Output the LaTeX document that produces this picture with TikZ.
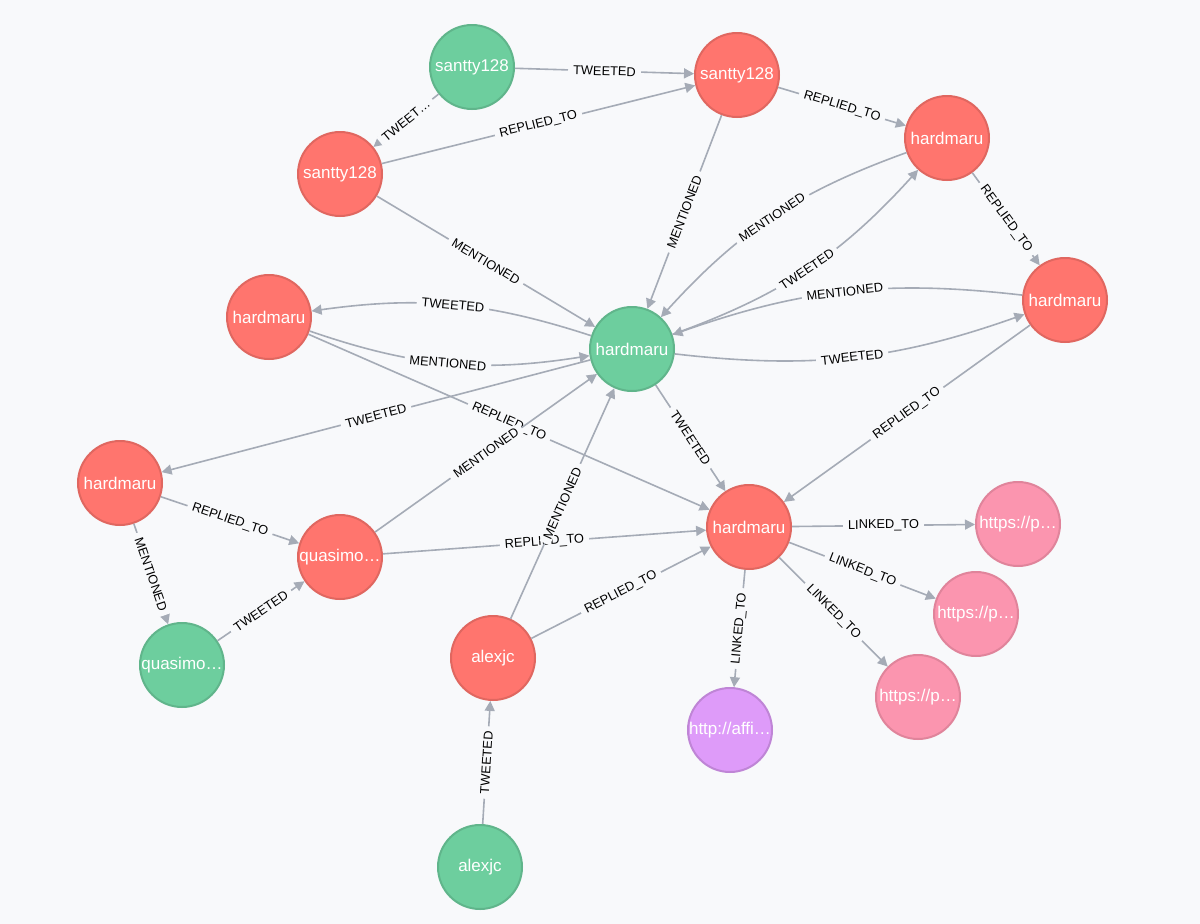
\documentclass[tikz,border=0pt]{standalone}
\usepackage{fontspec}
\setmainfont{Liberation Sans}
\usetikzlibrary{arrows.meta}
\definecolor{bg}{HTML}{F8F9FB}
\definecolor{grn}{HTML}{6DCE9E}
\definecolor{grnd}{HTML}{60B58B}
\definecolor{red}{HTML}{FF756E}
\definecolor{redd}{HTML}{E06760}
\definecolor{pnk}{HTML}{FB95AF}
\definecolor{pnkd}{HTML}{E0849B}
\definecolor{pur}{HTML}{DE9BF9}
\definecolor{purd}{HTML}{BF85D6}
\definecolor{edge}{HTML}{A5ABB6}
\begin{document}
\begin{tikzpicture}[x=1pt,y=1pt,
  nd/.style={circle,minimum size=84pt,inner sep=0pt,line width=2pt,font=\fontsize{17}{20}\selectfont,text=white},
  gn/.style={nd,fill=grn,draw=grnd},
  rn/.style={nd,fill=red,draw=redd},
  pk/.style={nd,fill=pnk,draw=pnkd},
  pu/.style={nd,fill=pur,draw=purd},
  rel/.style={draw=edge,line width=1.6pt,-{Triangle[length=10pt,width=10pt]}},
  lbl/.style={sloped,midway,fill=bg,inner xsep=5pt,inner ysep=1pt,font=\fontsize{12.8}{14}\selectfont,text=black}
]
\fill[bg] (0,0) rectangle (1200,-924);
\useasboundingbox (0,0) rectangle (1200,-924);

\node[gn] (s1) at (472,-67) {santty128};
\node[rn] (s2) at (737,-75) {santty128};
\node[rn] (s3) at (340,-174) {santty128};
\node[rn] (h1) at (947,-138) {hardmaru};
\node[rn] (h2) at (1065,-300) {hardmaru};
\node[rn] (h3) at (269,-317) {hardmaru};
\node[gn] (hc) at (632,-349) {hardmaru};
\node[rn] (h4) at (120,-483) {hardmaru};
\node[rn] (q1) at (340,-557) {quasimo…};
\node[gn] (q2) at (182,-665) {quasimo…};
\node[rn] (a1) at (493,-658) {alexjc};
\node[gn] (a2) at (480,-867) {alexjc};
\node[rn] (hb) at (749,-527) {hardmaru};
\node[pk] (u1) at (1018,-524) {https://p…};
\node[pk] (u2) at (976,-614) {https://p…};
\node[pk] (u3) at (918,-697) {https://p…};
\node[pu] (u4) at (730,-730) {http://affi…};

\draw[rel] (s1) -- node[lbl]{TWEETED} (s2);
\draw[rel] (s1) -- node[lbl]{TWEET…} (s3);
\draw[rel] (s3) -- node[lbl]{REPLIED\_TO} (s2);
\draw[rel] (s2) -- node[lbl]{REPLIED\_TO} (h1);
\draw[rel] (s2) -- node[lbl]{MENTIONED} (hc);
\draw[rel] (s3) -- node[lbl]{MENTIONED} (hc);
\draw[rel] (h1) to[bend right=14] node[lbl]{MENTIONED} (hc);
\draw[rel] (hc) to[bend right=14] node[lbl]{TWEETED} (h1);
\draw[rel] (h1) -- node[lbl]{REPLIED\_TO} (h2);
\draw[rel] (h2) to[bend right=13] node[lbl]{MENTIONED} (hc);
\draw[rel] (hc) to[bend right=13] node[lbl]{TWEETED} (h2);
\draw[rel] (h2) -- node[lbl]{REPLIED\_TO} (hb);
\draw[rel] (hc) to[bend right=13] node[lbl]{TWEETED} (h3);
\draw[rel] (h3) to[bend right=14] node[lbl]{MENTIONED} (hc);
\draw[rel] (h3) -- node[lbl]{REPLIED\_TO} (hb);
\draw[rel] (hc) -- node[lbl]{TWEETED} (h4);
\draw[rel] (h4) -- node[lbl]{REPLIED\_TO} (q1);
\draw[rel] (h4) -- node[lbl]{MENTIONED} (q2);
\draw[rel] (q2) -- node[lbl]{TWEETED} (q1);
\draw[rel] (q1) -- node[lbl]{MENTIONED} (hc);
\draw[rel] (q1) -- node[lbl]{REPLIED\_TO} (hb);
\draw[rel] (a1) -- node[lbl]{MENTIONED} (hc);
\draw[rel] (a1) -- node[lbl]{REPLIED\_TO} (hb);
\draw[rel] (a2) -- node[lbl]{TWEETED} (a1);
\draw[rel] (hc) -- node[lbl]{TWEETED} (hb);
\draw[rel] (hb) -- node[lbl]{LINKED\_TO} (u1);
\draw[rel] (hb) -- node[lbl]{LINKED\_TO} (u2);
\draw[rel] (hb) -- node[lbl]{LINKED\_TO} (u3);
\draw[rel] (hb) -- node[lbl]{LINKED\_TO} (u4);
\end{tikzpicture}
\end{document}
